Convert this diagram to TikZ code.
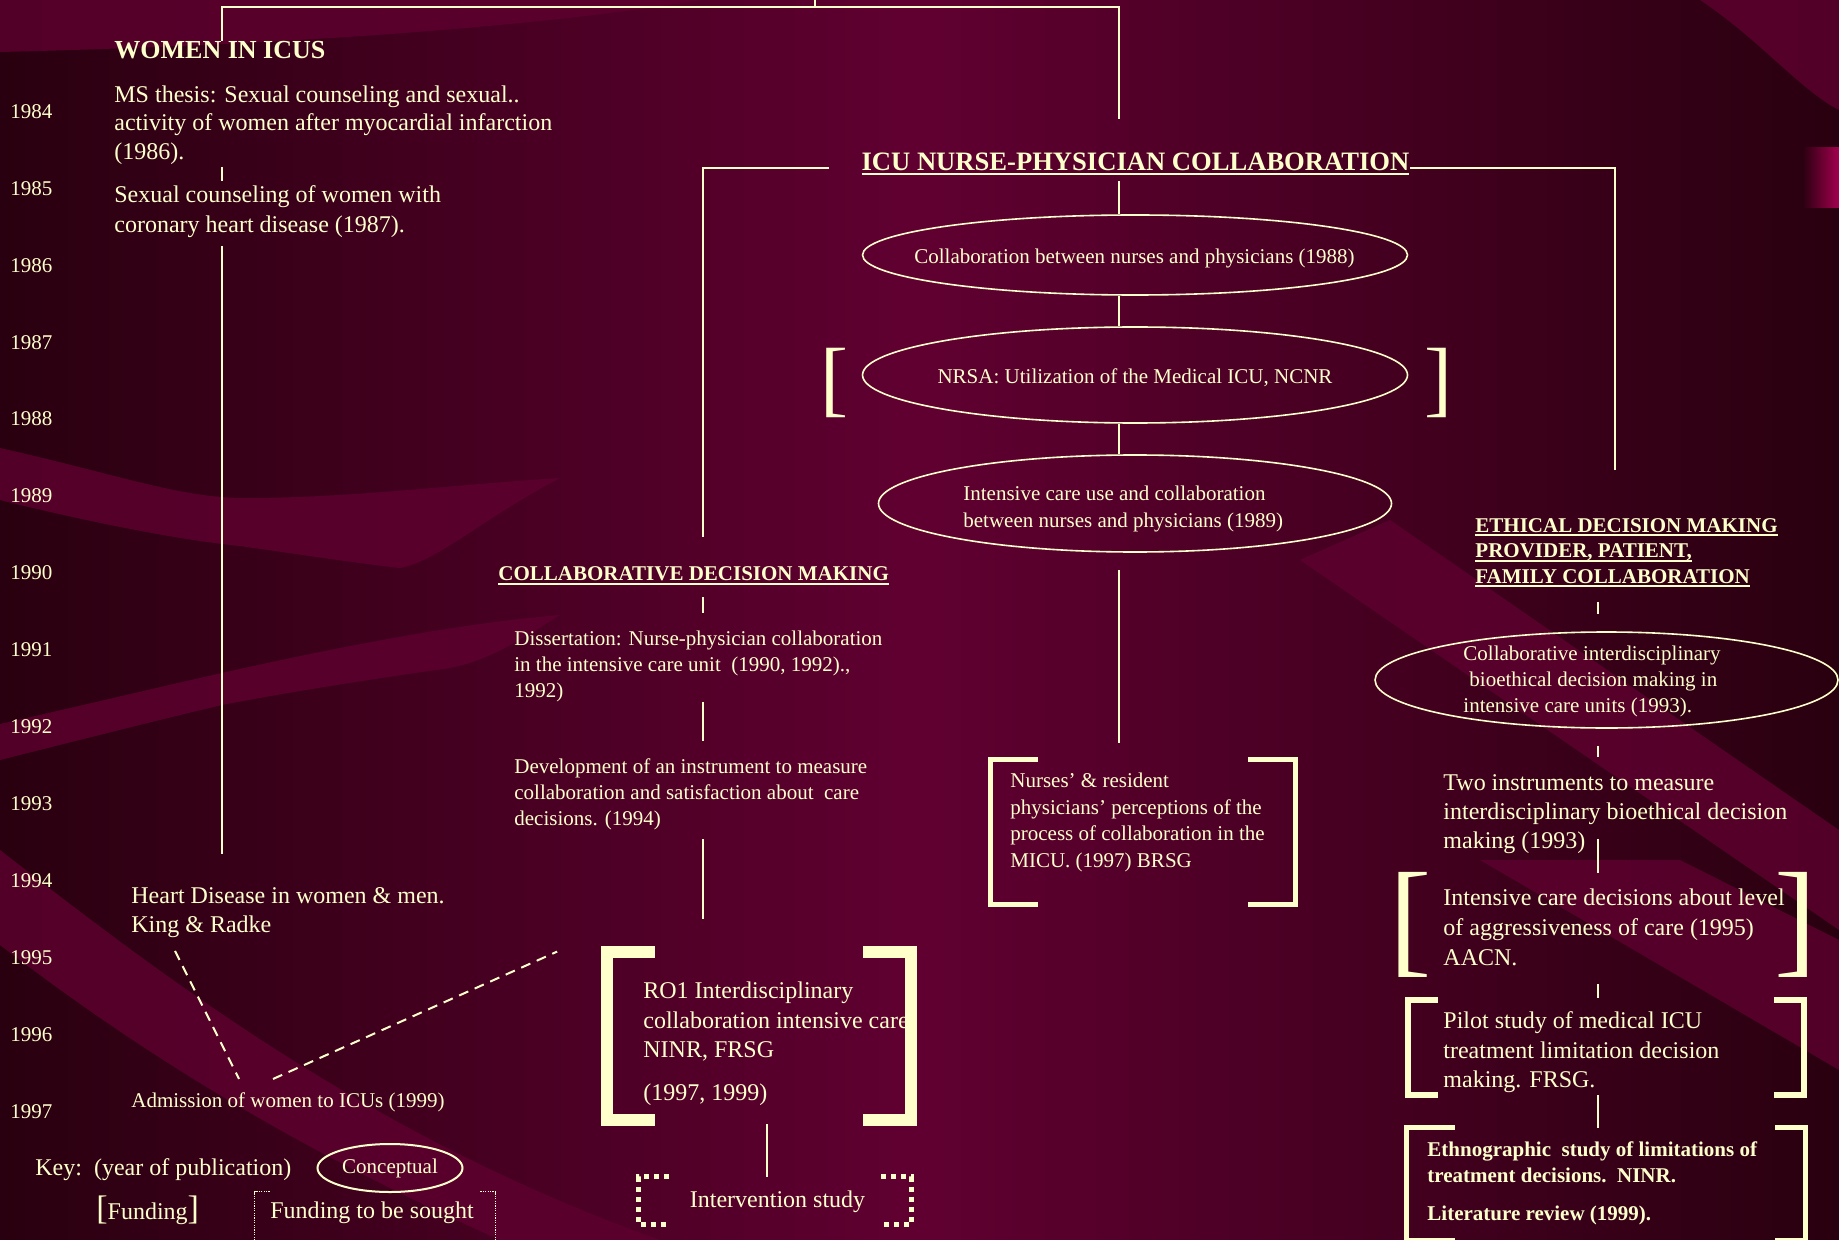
\documentclass[tikz,border=0pt]{standalone}
\usepackage{fontspec}
\setmainfont{Liberation Serif}
\usetikzlibrary{shapes.geometric}

\definecolor{cream}{HTML}{FFFFCC}
\definecolor{bgdark}{HTML}{29000F}
\definecolor{bgmid}{HTML}{600031}
\definecolor{bandc}{HTML}{5E002F}
\definecolor{magen}{HTML}{A3004F}

% underline that sits a little below the baseline
\newcommand{\undl}[1]{\setbox0\hbox{#1}\rlap{\rule[-2pt]{\wd0}{1pt}}\box0}

% square brackets on both sides of an (empty) box node
\newcommand{\bracketsaround}[4]{%
  \draw[#4] ([xshift=#2]#1.north west) -| (#1.south west) -- ++(#2,0);
  \draw[#4] ([xshift=-#3]#1.north east) -| (#1.south east) -- ++(-#3,0);
}

\tikzset{
  txt/.style={text=cream, inner sep=0pt, anchor=west, align=left},
  yearlbl/.style={txt, font=\fontsize{10.5pt}{12pt}\selectfont},
  bigtxt/.style={txt, font=\fontsize{12pt}{14.5pt}\selectfont},
  smalltxt/.style={txt, font=\fontsize{10.5pt}{13pt}\selectfont},
  headtxt/.style={txt, font=\bfseries\fontsize{10.5pt}{12.75pt}\selectfont},
  oval/.style={ellipse, draw=cream, line width=0.8pt, inner sep=0pt},
  area/.style={inner sep=0pt},
  link/.style={draw=cream, line width=1pt},
  dashlink/.style={link, dash pattern=on 5pt off 3.5pt},
  brk/.style={draw=cream, line width=#1},
  dotbrk/.style={draw=cream, line width=#1, dash pattern=on #1 off #1},
  glyphbrk/.style={text=cream, inner sep=0pt, font=\fontsize{#1}{#1}\selectfont},
  band/.style={fill=bandc, fill opacity=0.8},
}

\begin{document}
\begin{tikzpicture}[x=0.5pt, y=-0.5pt]
% background
\useasboundingbox (0,0) rectangle (1839,1240);
\shade[left color=bgdark, right color=bgdark, middle color=bgmid] (0,0) rectangle (1839,1240);
\fill[band] (0,0) -- (0,52) .. controls (250,46) and (520,30) .. (700,0) -- cycle;
\fill[band] (0,448) .. controls (120,475) and (180,498) .. (245,498) .. controls (350,498) and (450,485) .. (560,478) .. controls (480,520) and (440,560) .. (400,568) .. controls (330,560) and (260,548) .. (222,544) .. controls (150,535) and (60,515) .. (0,500) -- cycle;
\fill[band] (0,724) .. controls (120,697) and (220,672) .. (320,652) .. controls (420,632) and (490,621) .. (560,615) .. controls (520,640) and (490,660) .. (450,668) .. controls (380,678) and (300,690) .. (222,705) .. controls (150,722) and (60,745) .. (0,760) -- cycle;
\fill[band] (0,850) .. controls (180,990) and (380,1140) .. (660,1240) -- (500,1240) .. controls (300,1150) and (150,1060) .. (0,945) -- cycle;
\fill[band] (1300,560) -- (1390,520) -- (1839,830) -- (1839,930) -- cycle;
\fill[band] (1480,860) -- (1680,860) -- (1839,940) -- (1839,1070) -- cycle;
\fill[band] (1700,0) .. controls (1760,40) and (1800,90) .. (1839,110) -- (1839,0) -- cycle;
\shade[left color=bgdark, right color=magen] (1802,148) rectangle (1839,208);

\coordinate (spineW) at (222,0);
\coordinate (spineD) at (703,0);
\coordinate (spineC) at (1119,0);
\coordinate (spineI) at (767,0);
\coordinate (spineE) at (1598,0);
\coordinate (spineR) at (1615,0);
\coordinate (topbar) at (0,7);
\coordinate (icubar) at (0,168);
\coordinate (upref) at (815,0);

% years down the left edge
\foreach \yr [count=\i from 0] in {1984,...,1997}
  \node[yearlbl] (y\yr) at (10,111.5+76.9*\i) {\yr};

% women in ICUs
\node[txt, font=\bfseries\fontsize{13pt}{15pt}\selectfont] (wtitle) at (114,50) {WOMEN IN ICUS};
\node[bigtxt, font=\fontsize{12pt}{14.25pt}\selectfont] (wthesis) at (114,125)
  {MS thesis:  Sexual counseling and sexual..\\activity of women after myocardial infarction\\(1986).};
\node[bigtxt, font=\fontsize{12pt}{15pt}\selectfont] (wcouns) at (114,212)
  {Sexual counseling of women with\\coronary heart disease (1987).};
\node[bigtxt] (wheart) at (131,912.5) {Heart Disease in women \& men.\\King \& Radke};
\node[smalltxt] (wadmit) at (131,1102) {Admission of women to ICUs (1999)};

% ICU nurse-physician collaboration
\node[txt, anchor=center, font=\bfseries\fontsize{13.3pt}{15pt}\selectfont] (icut) at (1135.5,164)
  {\undl{ICU NURSE-PHYSICIAN COLLABORATION}};
\node[oval, minimum width=272.5pt, minimum height=40pt] (ell1) at (1135,255) {};
\node[smalltxt, anchor=center] (ell1txt) at (1134.5,258) {Collaboration between nurses and physicians (1988)};
\node[oval, minimum width=272.5pt, minimum height=48pt] (ell2) at (1135,375) {};
\node[smalltxt, anchor=center] (ell2txt) at (1135,378) {NRSA:  Utilization of the Medical ICU, NCNR};
\node[glyphbrk=42pt] (nrsaL) at (834,382.5) {[};
\node[glyphbrk=42pt] (nrsaR) at (1438,382.5) {]};
\node[oval, minimum width=256.5pt, minimum height=48.5pt] (ell3) at (1135,503.5) {};
\node[smalltxt, font=\fontsize{10.5pt}{13.5pt}\selectfont] (ell3txt) at (963,508.5)
  {Intensive care use and collaboration\\between nurses and physicians (1989)};
\node[area, minimum width=152.5pt, minimum height=72.5pt] (nursebox) at (1143,832) {};
\node[smalltxt, font=\fontsize{10.5pt}{13.2pt}\selectfont] (nursetxt) at (1010,822.5)
  {Nurses’ \& resident\\physicians’ perceptions of the\\process of collaboration in the\\MICU. (1997) BRSG};

% collaborative decision making
\node[headtxt] (cdt) at (498,576) {\undl{COLLABORATIVE DECISION MAKING}};
\node[smalltxt] (diss) at (514,666)
  {Dissertation:  Nurse-physician collaboration\\in the intensive care unit\ \ (1990, 1992).,\\1992)};
\node[smalltxt] (dev) at (514,794)
  {Development of an instrument to measure\\collaboration and satisfaction about\ \ care\\decisions. (1994)};
\node[area, minimum width=152pt, minimum height=84pt] (ro1box) at (759,1036) {};
\node[bigtxt, font=\fontsize{12pt}{14.75pt}\selectfont] (ro1txt) at (643,1044)
  {RO1 Interdisciplinary\\collaboration intensive care\\NINR, FRSG\\[6.75pt](1997, 1999)};
\node[area, minimum width=136pt, minimum height=23.5pt] (intbox) at (775,1200.5) {};
\node[bigtxt, anchor=center] (inttxt) at (777.5,1202) {Intervention study};

% ethical decision making
\node[headtxt] (etht) at (1475,553)
  {\undl{ETHICAL DECISION MAKING}\\\undl{PROVIDER, PATIENT,}\\\undl{FAMILY COLLABORATION}};
\node[oval, minimum width=231.5pt, minimum height=48pt] (ell4) at (1606.5,680) {};
\node[smalltxt] (ell4txt) at (1463,681)
  {Collaborative interdisciplinary\\\hspace*{3pt}bioethical decision making in\\intensive care units (1993).};
\node[bigtxt] (two) at (1443,814)
  {Two instruments to measure\\interdisciplinary bioethical decision\\making (1993)};
\node[area, minimum width=205pt, minimum height=52pt] (icbox) at (1603,925) {};
\node[glyphbrk=63.5pt] (icL) at (1410.5,925) {[};
\node[glyphbrk=63.5pt] (icR) at (1795.5,925) {]};
\node[bigtxt, font=\fontsize{12pt}{15pt}\selectfont] (ictxt) at (1443,927)
  {Intensive care decisions about level\\of aggressiveness of care (1995)\\AACN.};
\node[area, minimum width=198pt, minimum height=47.5pt] (pilotbox) at (1606,1047.5) {};
\node[bigtxt, font=\fontsize{12pt}{14.75pt}\selectfont] (pilottxt) at (1443,1052.5)
  {Pilot study of medical ICU\\treatment limitation decision\\making.  FRSG.};
\node[area, minimum width=199pt, minimum height=56pt] (ethnobox) at (1606,1184) {};
\node[headtxt, font=\bfseries\fontsize{10.5pt}{13pt}\selectfont] (ethnotxt) at (1427,1183)
  {Ethnographic\ \ study of limitations of\\treatment decisions.\ \ NINR.\\[6pt]Literature review (1999).};

% key
\node[bigtxt] (key) at (35,1170) {Key:\ \ (year of publication)};
\node[oval, line width=1pt, minimum width=72.5pt, minimum height=24pt, text=cream,
  font=\fontsize{10.5pt}{12pt}\selectfont] (concept) at (390,1168) {Conceptual};
\node[bigtxt, anchor=base west] (fund) at (96,1219)
  {{\fontsize{17pt}{17pt}\selectfont[}Funding{\fontsize{17pt}{17pt}\selectfont]}};
\node[area, minimum width=120pt, minimum height=34pt] (soughtbox) at (375,1226) {};
\node[bigtxt] (sought) at (270,1213) {Funding to be sought};

% brackets
\bracketsaround{nursebox}{24pt}{24pt}{brk=2.5pt}
\bracketsaround{ro1box}{24pt}{24pt}{brk=6pt}
\bracketsaround{intbox}{15pt}{15pt}{dotbrk=2.5pt}
\bracketsaround{soughtbox}{7.5pt}{7.5pt}{dotbrk=0.6pt}
\bracketsaround{pilotbox}{15pt}{15pt}{brk=3pt}
\bracketsaround{ethnobox}{24pt}{15pt}{brk=2.75pt}

% connectors
\draw[link] (upref) -- (upref |- topbar);
\draw[link, shorten >=17pt] (wtitle.north -| spineW) |- (spineC |- topbar) -- (icut.north -| spineC);
\draw[link, shorten <=1pt, shorten >=2.5pt] (wthesis.south -| spineW) -- (wcouns.north -| spineW);
\draw[link, shorten <=4pt, shorten >=16.5pt] (wcouns.south -| spineW) -- (wheart.north -| spineW);
\draw[dashlink] ([xshift=22pt, yshift=-6.5pt]wheart.south west) -- ([xshift=54pt, yshift=6.5pt]wadmit.north west);
\draw[dashlink] ([xshift=71pt, yshift=6.5pt]wadmit.north west) -- ([xshift=-24.75pt]ro1box.north west);

\draw[link, shorten <=16pt, shorten >=15pt] (icut.west |- icubar) -| (cdt.north -| spineD);
\draw[link, shorten >=24pt] (icut.east |- icubar) -| (etht.north -| spineR);
\draw[link, shorten <=3pt] (icut.south -| spineC) -- (ell1.north -| spineC);
\draw[link] (ell1.south -| spineC) -- (ell2.north -| spineC);
\draw[link] (ell2.south -| spineC) -- (ell3.north -| spineC);
\draw[link, shorten <=8.5pt, shorten >=8.25pt] (ell3.south -| spineC) -- (nursebox.north -| spineC);

\draw[link, shorten <=6pt, shorten >=8.5pt] (cdt.south -| spineD) -- (diss.north -| spineD);
\draw[link, shorten >=8.5pt] (diss.south -| spineD) -- (dev.north -| spineD);
\draw[link, shorten <=4.5pt, shorten >=16.5pt] (dev.south -| spineD) -- (ro1box.north -| spineD);
\draw[link, shorten <=2pt] (ro1box.south -| spineI) -- (intbox.north -| spineI);

\draw[link, shorten <=7pt, shorten >=8.5pt] (etht.south -| spineE) -- (ell4.north -| spineE);
\draw[link, shorten <=8.5pt, shorten >=8.5pt] (ell4.south -| spineE) -- (two.north -| spineE);
\draw[link, shorten <=-7.5pt] (two.south -| spineE) -- (icbox.north -| spineE);
\draw[link, shorten <=3.5pt, shorten >=1pt] (icbox.south -| spineE) -- (pilotbox.north -| spineE);
\draw[link] (pilotbox.south -| spineE) -- (ethnobox.north -| spineE);
\end{tikzpicture}
\end{document}
